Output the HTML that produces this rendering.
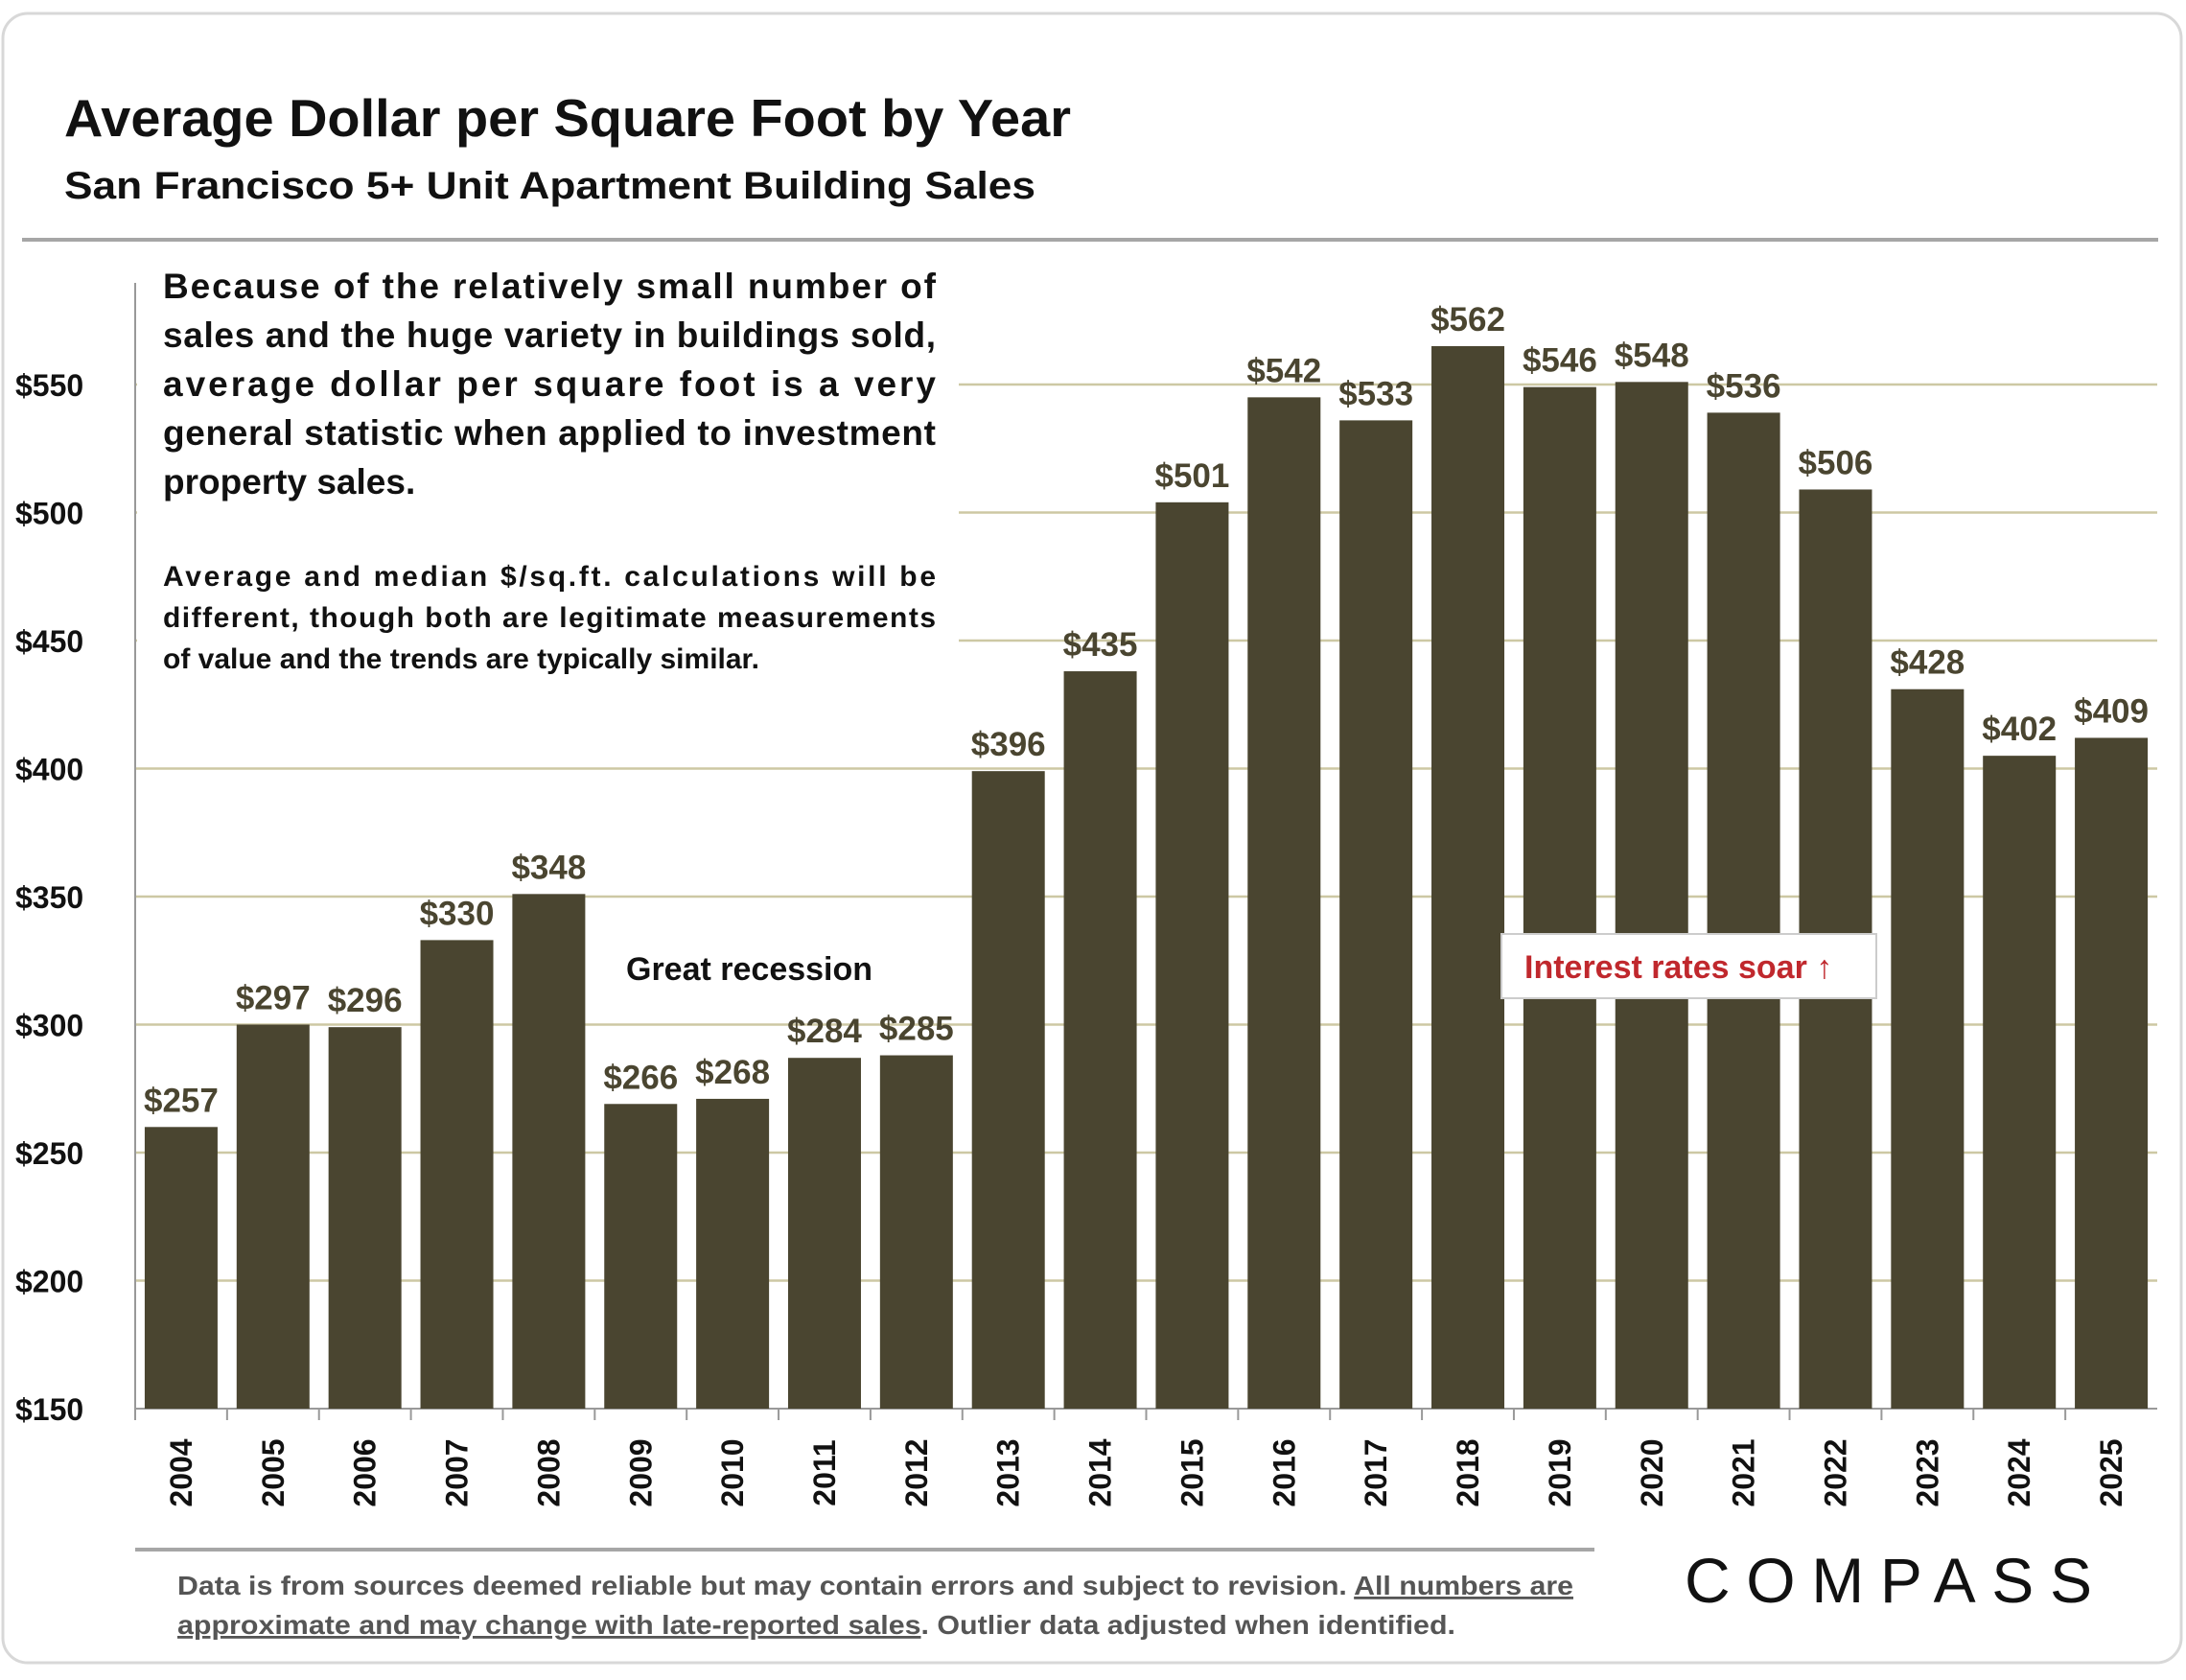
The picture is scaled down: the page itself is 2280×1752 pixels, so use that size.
<!DOCTYPE html>
<html><head><meta charset="utf-8"><style>
html,body{margin:0;padding:0;background:#fff;}
svg{display:block;font-family:"Liberation Sans",sans-serif;}
</style></head><body>
<svg id="chart" width="2280" height="1752" viewBox="0 0 2280 1752" xmlns="http://www.w3.org/2000/svg">
<rect x="3" y="14" width="2272" height="1720" rx="26" fill="#fff" stroke="#d8d8d8" stroke-width="3"/>
<text x="67" y="142" font-size="55" font-weight="bold" fill="#111" textLength="1050" lengthAdjust="spacingAndGlyphs">Average Dollar per Square Foot by Year</text>
<text x="67" y="207" font-size="40" font-weight="bold" fill="#111" textLength="1013" lengthAdjust="spacingAndGlyphs">San Francisco 5+ Unit Apartment Building Sales</text>
<rect x="23" y="248" width="2228" height="4" fill="#a6a6a6"/>
<g id="grid"></g>
<g id="yaxis"></g>
<g id="bars"></g>
<rect x="143" y="280" width="857" height="410" fill="#fff"/>
<g font-weight="bold" fill="#111">
<text x="170" y="311" font-size="37" textLength="806" lengthAdjust="spacing">Because of the relatively small number of</text>
<text x="170" y="362" font-size="37" textLength="806" lengthAdjust="spacing">sales and the huge variety in buildings sold,</text>
<text x="170" y="413" font-size="37" textLength="806" lengthAdjust="spacing">average dollar per square foot is a very</text>
<text x="170" y="464" font-size="37" textLength="806" lengthAdjust="spacing">general statistic when applied to investment</text>
<text x="170" y="515" font-size="37">property sales.</text>
<text x="170" y="611" font-size="30" textLength="806" lengthAdjust="spacing">Average and median $/sq.ft. calculations will be</text>
<text x="170" y="654" font-size="30" textLength="806" lengthAdjust="spacing">different, though both are legitimate measurements</text>
<text x="170" y="697" font-size="30">of value and the trends are typically similar.</text>
</g>
<text x="653" y="1022" font-size="34" font-weight="bold" fill="#111">Great recession</text>
<rect x="1566" y="974" width="391" height="67" fill="#fff" stroke="#ccc" stroke-width="2"/>
<text x="1590" y="1020" font-size="34" font-weight="bold" fill="#c0282d">Interest rates soar ↑</text>
<rect x="141" y="1614" width="1522" height="4" fill="#a6a6a6"/>
<g font-size="28" font-weight="bold" fill="#555">
<text x="185" y="1663" textLength="1456" lengthAdjust="spacingAndGlyphs">Data is from sources deemed reliable but may contain errors and subject to revision. <tspan text-decoration="underline">All numbers are</tspan></text>
<text x="185" y="1704" textLength="1333" lengthAdjust="spacingAndGlyphs"><tspan text-decoration="underline">approximate and may change with late-reported sales</tspan>.  Outlier data adjusted when identified.</text>
</g>
<text x="1757" y="1671" font-size="66" fill="#111" textLength="425" lengthAdjust="spacing">COMPASS</text>
</svg>
<script>
const years=["2004","2005","2006","2007","2008","2009","2010","2011","2012","2013","2014","2015","2016","2017","2018","2019","2020","2021","2022","2023","2024","2025"];
const values=[257,297,296,330,348,266,268,284,285,396,435,501,542,533,562,546,548,536,506,428,402,409];
const yTicks=[150,200,250,300,350,400,450,500,550];
const NS="http://www.w3.org/2000/svg";
const x0=141,x1=2250,yBase=1469,yTop=401;
const yS=v=>yBase-(v-150)/(550-150)*(yBase-yTop);
const step=(x1-x0)/years.length;
const xC=i=>x0+step*(i+0.5);
function mk(tag,attrs,parent,txt){const e=document.createElementNS(NS,tag);for(const k in attrs)e.setAttribute(k,attrs[k]);if(txt!==undefined)e.textContent=txt;parent.appendChild(e);return e;}
const grid=document.getElementById('grid'),ya=document.getElementById('yaxis'),bars=document.getElementById('bars');
yTicks.forEach(t=>{
  if(t>150){const l=mk('line',{x1:x0,x2:x1,y1:yS(t),y2:yS(t),stroke:'#cdc8a4','stroke-width':2.5},grid);
  
  }
  const tx=mk('text',{x:16,y:yS(t)+12,'font-size':32,'font-weight':'bold',fill:'#111'},ya,'$'+t);
  
  
});
const ax=mk('line',{x1:x0,x2:x0,y1:295,y2:yBase,stroke:'#999','stroke-width':2},ya);


const xl=mk('line',{x1:x0,x2:x1,y1:yBase,y2:yBase,stroke:'#999','stroke-width':2},ya);


const bw=76;
years.forEach((y,i)=>{
  const v=values[i],top=yS(v+3);
  const r=mk('rect',{x:xC(i)-bw/2,y:top,width:bw,height:yBase-top,fill:'#4a4530'},bars);
  
  
  const lb=mk('text',{x:xC(i),y:top-16,'text-anchor':'middle','font-size':35,'font-weight':'bold',fill:'#4a4530'},bars,'$'+v);
  
  
  const tk=mk('line',{x1:x0+step*i,x2:x0+step*i,y1:yBase,y2:yBase+12,stroke:'#999','stroke-width':2},ya);
  
  
  const yl=mk('text',{x:0,y:0,transform:`translate(${xC(i)+11},${1536}) rotate(-90)`,'text-anchor':'middle','font-size':32,'font-weight':'bold',fill:'#111'},ya,y);
  
  
});
</script>
</body></html>
